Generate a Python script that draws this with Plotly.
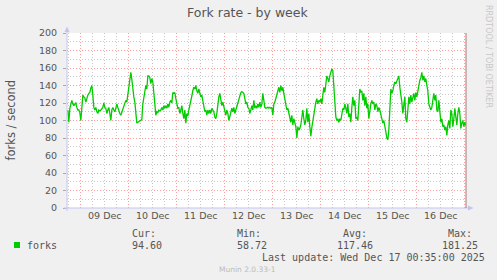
import pandas as pd
import plotly.graph_objects as go

# ---------------- data ----------------
title_text = "Fork rate - by week"
y_title = "forks / second"
series_name = "forks"
first_sample = "2025-12-08 17:30"
sample_step = "30min"
range_start = "2025-12-08 17:05"
range_end = "2025-12-17 00:35"
y_ticks = [0, 20, 40, 60, 80, 100, 120, 140, 160, 180, 200]
y_minor_ticks = [10, 30, 50, 70, 90, 110, 130, 150, 170, 190]
stat_labels = ["Cur:", "Min:", "Avg:", "Max:"]
stat_values = ["94.60", "58.72", "117.46", "181.25"]
last_update = "Last update: Wed Dec 17 00:35:00 2025"
footer_text = "Munin 2.0.33-1"
side_text = "RRDTOOL / TOBI OETIKER"

forks = [
    112, 98, 114, 119, 123, 119, 117, 119, 120, 115, 112, 112, 109, 100, 119, 129,
    127, 126, 121, 127, 129, 131, 132, 137, 140, 129, 115, 112, 115, 110, 108, 112,
    111, 112, 114, 115, 120, 115, 114, 108, 112, 115, 108, 100, 112, 115, 112, 110,
    114, 119, 115, 110, 108, 106, 110, 112, 115, 119, 123, 121, 129, 142, 149, 155,
    147, 134, 127, 121, 112, 97, 98, 99, 100, 100, 101, 119, 127, 132,
    140, 136, 151, 151, 149, 142, 148, 144, 134, 119, 106, 110, 109, 112, 111, 112,
    115, 112, 117, 114, 117, 114, 119, 115, 121, 123, 120, 132, 131, 132, 125, 117,
    114, 115, 108, 112, 117, 108, 102, 112, 97, 108, 105, 112, 119, 123, 128, 134,
    138, 136, 140, 134, 131, 136, 132, 127, 129, 121, 115, 110, 112, 106, 112, 108,
    112, 108, 114, 112, 110, 104, 102, 108, 121, 127, 131, 125, 117, 121, 115, 110,
    106, 112, 108,
    100, 106, 112, 114, 110, 115, 108, 112, 117, 123, 125, 131, 132, 133, 132, 131,
    125, 119, 121, 115, 114, 108, 112, 117, 112, 123, 114, 117, 114, 119, 115, 121,
    115, 119, 131, 123, 115, 114, 115, 115, 114, 115, 114, 115, 106, 119, 121, 125,
    131, 134, 138, 132, 140, 134, 138, 131, 123, 115, 112, 114, 108, 104, 98, 106,
    95, 102, 97, 93, 80, 93, 89, 91, 95, 102, 112, 102, 95, 100, 114, 98,
    108, 93, 82, 92, 100, 110,
    112, 121, 125, 119, 123, 121, 125, 119, 129, 138, 132, 140, 151, 148, 144, 151,
    157, 159, 157, 138, 123, 104, 100, 102, 98, 102, 100, 106, 114, 112, 119, 114,
    108, 119, 104, 108, 98, 115, 127, 117, 123, 102, 104, 100, 115, 136, 132, 134,
    123, 131, 117, 127, 114, 119, 102, 112, 119, 123, 119, 121, 112, 119, 117, 110,
    115, 112, 108, 102, 97, 100, 91, 87, 80, 78, 89, 115, 136, 131, 134, 140,
    144, 142, 146,
    148, 151, 138, 131, 121, 108, 115, 127, 102, 98, 112, 127, 119, 129, 121, 125,
    131, 123, 132, 127, 134, 142, 146, 149, 155, 146, 151, 144, 148, 140, 134, 119,
    115, 112, 115, 127, 131, 123, 129, 112, 110, 123, 108, 98, 102, 93, 95, 89,
    93, 83, 95, 100, 91, 112, 108, 93, 102, 114, 104, 95, 108, 115, 108, 91,
    97, 100, 93, 98, 94.6,
]

# ---------------- geometry helpers (pixel -> paper) ----------------
W, H = 497, 280
L, R, T, B = 67, 466, 33, 208


def px(x):
    return (x - L) / (R - L)


def py(y):
    return (B - y) / (B - T)


times = pd.date_range(first_sample, periods=len(forks), freq=sample_step)
six_hourly = pd.date_range("2025-12-08 06:00", "2025-12-17 18:00", freq="6h")
x_minor_ticks = [t for t in six_hourly if t.hour != 0]

fig = go.Figure()
fig.add_trace(go.Scatter(
    x=times, y=forks, mode="lines", name=series_name,
    line=dict(color="#00cc00", width=1.3),
    hoverinfo="skip",
))

major_grid = "#ff9c9c"
minor_grid = "#c8c8c8"
tick_font = dict(family="DejaVu Sans", size=9.5, color="#555555")
axis_col = "#c4c4f4"

fig.update_layout(
    width=W, height=H,
    margin=dict(l=L, r=W - R, t=T, b=H - B, pad=0),
    paper_bgcolor="#f0f0f0",
    plot_bgcolor="#ffffff",
    showlegend=False,
    xaxis=dict(
        type="date",
        range=[range_start, range_end],
        tick0="2025-12-09", dtick=86400000,
        tickformat="%d %b", ticklabelmode="period",
        showgrid=True, gridcolor=major_grid, griddash="1px,2px", gridwidth=1,
        minor=dict(tickvals=x_minor_ticks, showgrid=True, gridcolor=minor_grid,
                   griddash="1px,2px", gridwidth=1),
        zeroline=False, showline=False, ticks="",
        tickfont=tick_font, fixedrange=True,
    ),
    yaxis=dict(
        range=[0, 200], tickvals=y_ticks,
        showgrid=True, gridcolor=major_grid, griddash="1px,2px", gridwidth=1,
        minor=dict(tickvals=y_minor_ticks, showgrid=True, gridcolor=minor_grid,
                   griddash="1px,2px", gridwidth=1),
        zeroline=False, showline=False, ticks="outside", ticklen=3,
        tickcolor="#aaaaaa", tickfont=tick_font, fixedrange=True,
        ticklabelstandoff=4,
    ),
)

shapes = []
# axes with arrow heads
shapes.append(dict(type="line", xref="paper", yref="paper",
                   x0=px(67), x1=px(67), y0=py(211), y1=py(29),
                   line=dict(color=axis_col, width=1)))
shapes.append(dict(type="line", xref="paper", yref="paper",
                   x0=px(64), x1=px(470), y0=py(208), y1=py(208),
                   line=dict(color=axis_col, width=1)))
shapes.append(dict(type="path", xref="paper", yref="paper",
                   path=f"M {px(67)},{py(26.5)} L {px(64.5)},{py(32)} L {px(69.5)},{py(32)} Z",
                   fillcolor=axis_col, line=dict(width=0)))
shapes.append(dict(type="path", xref="paper", yref="paper",
                   path=f"M {px(473.5)},{py(208)} L {px(468)},{py(205.5)} L {px(468)},{py(210.5)} Z",
                   fillcolor=axis_col, line=dict(width=0)))
# "now" line on the right edge
shapes.append(dict(type="line", xref="paper", yref="paper",
                   x0=1, x1=1, y0=0, y1=1,
                   line=dict(color="#a07878", width=1)))
# legend colour box
shapes.append(dict(type="rect", xref="paper", yref="paper",
                   x0=px(14), x1=px(20), y0=py(248), y1=py(242),
                   fillcolor="#00cc00", line=dict(width=0)))
fig.update_layout(shapes=shapes)

mono = dict(family="DejaVu Sans Mono", size=10, color="#555555")


def note(text, x, y, font, xanchor="left", angle=0):
    fig.add_annotation(text=text, xref="paper", yref="paper",
                       x=px(x), y=py(y), xanchor=xanchor, yanchor="middle",
                       showarrow=False, font=font, textangle=angle,
                       borderpad=0, borderwidth=0)


note(title_text, 248, 13, dict(family="DejaVu Sans", size=12.5, color="#555555"), "center")
note(y_title, 10, 120.5, dict(family="DejaVu Sans", size=11.5, color="#555555"), "center", -90)
note(side_text, 488.5, 56.5, dict(family="DejaVu Sans", size=8, color="#c8c8c8"), "center", 90)

note(series_name, 27, 245.5, mono)
label_x = [132, 237, 343, 448]
value_x = [132, 237, 337, 442]
for lab, lx in zip(stat_labels, label_x):
    note(lab, lx, 233.5, mono)
for val, vx in zip(stat_values, value_x):
    note(val, vx, 245.5, mono)
note(last_update, 262, 257.5, mono)
note(footer_text, 219, 269.5, dict(family="DejaVu Sans", size=7.5, color="#bbbbbb"))

fig.write_html("out.html")
